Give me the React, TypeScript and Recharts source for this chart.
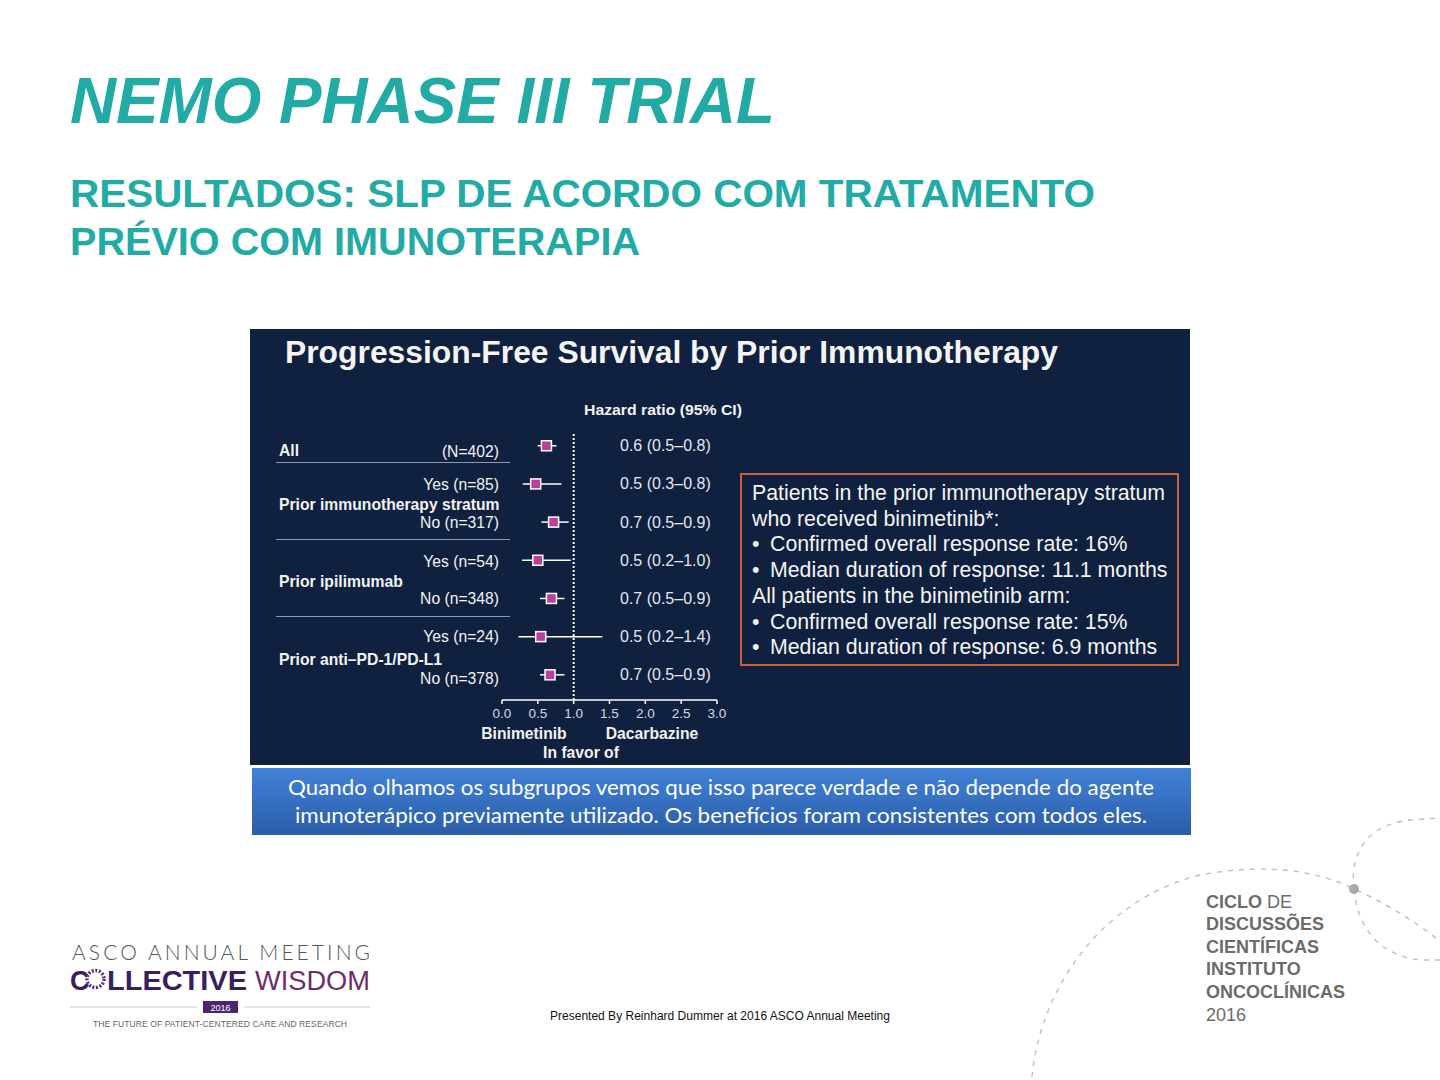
import React from 'react';
import { ScatterChart, Scatter, XAxis, YAxis, ReferenceLine, ErrorBar } from 'recharts';

const rowLabels = ['All', 'Yes (n=85)', 'No (n=317)', 'Yes (n=54)', 'No (n=348)', 'Yes (n=24)', 'No (n=378)'];
const hazardRatio = [0.62, 0.47, 0.72, 0.5, 0.69, 0.54, 0.67];
const ciLow = [0.5, 0.29, 0.55, 0.28, 0.53, 0.23, 0.53];
const ciHigh = [0.76, 0.83, 0.93, 0.96, 0.87, 1.4, 0.87];
const hrText = ['0.6 (0.5–0.8)', '0.5 (0.3–0.8)', '0.7 (0.5–0.9)', '0.5 (0.2–1.0)', '0.7 (0.5–0.9)', '0.5 (0.2–1.4)', '0.7 (0.5–0.9)'];
const xTicks = [0, 0.5, 1, 1.5, 2, 2.5, 3];

const boxLines = [
  { bullet: false, text: 'Patients in the prior immunotherapy stratum' },
  { bullet: false, text: 'who received binimetinib*:' },
  { bullet: true, text: 'Confirmed overall response rate: 16%' },
  { bullet: true, text: 'Median duration of response: 11.1 months' },
  { bullet: false, text: 'All patients in the binimetinib arm:' },
  { bullet: true, text: 'Confirmed overall response rate: 15%' },
  { bullet: true, text: 'Median duration of response: 6.9 months' },
];

const data = rowLabels.map((label, i) => ({
  label,
  row: i,
  hr: hazardRatio[i],
  err: [hazardRatio[i] - ciLow[i], ciHigh[i] - hazardRatio[i]],
  txt: hrText[i],
}));

const FONT = "'Liberation Sans', Arial, Helvetica, sans-serif";
const TEAL = '#22ABA5';
const NAVY = '#10203F';

const renderSquare = (p: any) => {
  if (p.cx == null || p.cy == null) return <g />;
  return (
    <g>
      <rect x={p.cx - 5} y={p.cy - 5} width={10} height={10} fill="#B8409C" stroke="#ffffff" strokeWidth={1.5} />
      <text x={370} y={p.cy + 5.5} fill="#e3e7ee" fontSize={16} fontFamily={FONT}>
        {p.payload?.txt}
      </text>
    </g>
  );
};

export default function App() {
  const leftLabel = (t: string, y: number, bold = false, end = false) => (
    <text
      x={end ? 499 : 279}
      y={y}
      textAnchor={end ? 'end' : 'start'}
      fill="#f2f2f2"
      fontSize={15.7}
      fontWeight={bold ? 700 : 400}
      fontFamily={FONT}
    >
      {t}
    </text>
  );

  return (
    <div style={{ position: 'absolute', left: 0, top: 0, width: 1440, height: 1080, background: '#ffffff', overflow: 'hidden' }}>
      <svg width={1440} height={1080} style={{ position: 'absolute', left: 0, top: 0 }}>
        {/* Titles */}
        <text x={70} y={123} fill={TEAL} fontSize={64} fontWeight={700} fontStyle="italic" fontFamily={FONT} textLength={705} lengthAdjust="spacingAndGlyphs">
          NEMO PHASE III TRIAL
        </text>
        <text x={70} y={207} fill={TEAL} fontSize={39} fontWeight={700} fontFamily={FONT} textLength={1025} lengthAdjust="spacingAndGlyphs">
          RESULTADOS: SLP DE ACORDO COM TRATAMENTO
        </text>
        <text x={70} y={255} fill={TEAL} fontSize={39} fontWeight={700} fontFamily={FONT} textLength={570} lengthAdjust="spacingAndGlyphs">
          PRÉVIO COM IMUNOTERAPIA
        </text>

        {/* Navy panel */}
        <rect x={250} y={329} width={940} height={436} fill={NAVY} />
        <text x={285} y={363} fill="#f4f4f4" fontSize={31} fontWeight={700} fontFamily={FONT} textLength={773} lengthAdjust="spacingAndGlyphs">
          Progression-Free Survival by Prior Immunotherapy
        </text>
        <text x={584} y={415} fill="#f2f2f2" fontSize={15.5} fontWeight={700} fontFamily={FONT} textLength={158} lengthAdjust="spacingAndGlyphs">
          Hazard ratio (95% CI)
        </text>

        {leftLabel('All', 455.5, true)}
        {leftLabel('(N=402)', 456.5, false, true)}
        <line x1={276} x2={510} y1={462.5} y2={462.5} stroke="#8c9bb5" strokeWidth={1} />
        {leftLabel('Yes (n=85)', 489.5, false, true)}
        {leftLabel('Prior immunotherapy stratum', 509.5, true)}
        {leftLabel('No (n=317)', 527.5, false, true)}
        <line x1={276} x2={510} y1={539.5} y2={539.5} stroke="#8c9bb5" strokeWidth={1} />
        {leftLabel('Yes (n=54)', 566.5, false, true)}
        {leftLabel('Prior ipilimumab', 586.5, true)}
        {leftLabel('No (n=348)', 603.5, false, true)}
        <line x1={276} x2={510} y1={616.5} y2={616.5} stroke="#8c9bb5" strokeWidth={1} />
        {leftLabel('Yes (n=24)', 641.5, false, true)}
        {leftLabel('Prior anti–PD-1/PD-L1', 664.5, true)}
        {leftLabel('No (n=378)', 683.5, false, true)}

        <text x={524} y={738.5} textAnchor="middle" fill="#f2f2f2" fontSize={15.7} fontWeight={700} fontFamily={FONT}>Binimetinib</text>
        <text x={652} y={738.5} textAnchor="middle" fill="#f2f2f2" fontSize={15.7} fontWeight={700} fontFamily={FONT}>Dacarbazine</text>
        <text x={581} y={758} textAnchor="middle" fill="#f2f2f2" fontSize={15.7} fontWeight={700} fontFamily={FONT}>In favor of</text>

        {/* Orange box */}
        <rect x={741} y={474} width={437} height={191} fill="none" stroke="#C9603C" strokeWidth={2} />
        {boxLines.map((l, i) => (
          <g key={i}>
            {l.bullet && (
              <text x={752} y={500 + i * 25.7} fill="#f4f4f4" fontSize={21.3} fontFamily={FONT}>•</text>
            )}
            <text x={l.bullet ? 770 : 752} y={500 + i * 25.7} fill="#f4f4f4" fontSize={21.3} fontFamily={FONT}>
              {l.text}
            </text>
          </g>
        ))}

        {/* Blue caption box */}
        <defs>
          <linearGradient id="blueg" x1="0" y1="0" x2="0" y2="1">
            <stop offset="0" stopColor="#4282D8" />
            <stop offset="1" stopColor="#2A5DA8" />
          </linearGradient>
        </defs>
        <rect x={252} y={768} width={939} height={67} fill="url(#blueg)" />
        <text x={721} y={795} textAnchor="middle" fill="#ffffff" fontSize={21} fontFamily="Lato, 'Open Sans', sans-serif" textLength={866} lengthAdjust="spacingAndGlyphs">
          Quando olhamos os subgrupos vemos que isso parece verdade e não depende do agente
        </text>
        <text x={721} y={823} textAnchor="middle" fill="#ffffff" fontSize={21} fontFamily="Lato, 'Open Sans', sans-serif" textLength={852} lengthAdjust="spacingAndGlyphs">
          imunoterápico previamente utilizado. Os benefícios foram consistentes com todos eles.
        </text>

        {/* Footer */}
        <text x={550} y={1020} fill="#111" fontSize={12} fontFamily={FONT} textLength={340} lengthAdjust="spacingAndGlyphs">
          Presented By Reinhard Dummer at 2016 ASCO Annual Meeting
        </text>

        {/* ASCO logo */}
        <text x={72} y={960} fill="#555" fontSize={21} fontWeight={300} fontFamily="Lato, sans-serif" textLength={298} lengthAdjust="spacing">
          ASCO ANNUAL MEETING
        </text>
        <text x={70} y={990} fill="#3A1F5E" fontSize={27} fontWeight={700} fontFamily={FONT}>C</text>
        <circle cx={95.5} cy={979} r={8.5} fill="none" stroke="#5B2E7E" strokeWidth={3.5} strokeDasharray="2 1.6" />
        <text x={107} y={990} fill="#3A1F5E" fontSize={27} fontWeight={700} fontFamily={FONT} textLength={140} lengthAdjust="spacingAndGlyphs">LLECTIVE</text>
        <text x={255} y={990} fill="#6E2C6E" fontSize={27} fontWeight={400} fontFamily={FONT} textLength={115} lengthAdjust="spacingAndGlyphs">WISDOM</text>
        <line x1={70} x2={197} y1={1007} y2={1007} stroke="#cccccc" strokeWidth={1} />
        <line x1={244} x2={370} y1={1007} y2={1007} stroke="#cccccc" strokeWidth={1} />
        <rect x={203} y={1001} width={35} height={12} fill="#4A2570" />
        <text x={220.5} y={1010.5} textAnchor="middle" fill="#ffffff" fontSize={9} fontFamily={FONT}>2016</text>
        <text x={93} y={1027} fill="#666" fontSize={8.5} fontFamily={FONT} textLength={254} lengthAdjust="spacing">
          THE FUTURE OF PATIENT-CENTERED CARE AND RESEARCH
        </text>

        {/* Right decorative curves */}
        <path d="M1032,1077 C1040,990 1100,900 1200,875 C1270,862 1320,872 1354,889 C1390,905 1420,925 1445,945" fill="none" stroke="#bbbbbb" strokeWidth={1.3} strokeDasharray="5 6" />
        <path d="M1354,889 C1350,855 1365,825 1410,820 C1425,819 1435,818 1445,818" fill="none" stroke="#bbbbbb" strokeWidth={1.3} strokeDasharray="5 6" />
        <path d="M1354,889 C1358,930 1380,955 1420,960 L1445,960" fill="none" stroke="#bbbbbb" strokeWidth={1.3} strokeDasharray="5 6" />
        <circle cx={1354} cy={889} r={5} fill="#aaaaaa" />

        {[
          ['CICLO', ' DE'],
          ['DISCUSSÕES', ''],
          ['CIENTÍFICAS', ''],
          ['INSTITUTO', ''],
          ['ONCOCLÍNICAS', ''],
          ['', '2016'],
        ].map((pair, i) => (
          <text key={i} x={1206} y={907.5 + i * 22.6} fill="#6b6b6b" fontSize={18} fontFamily={FONT}>
            <tspan fontWeight={700}>{pair[0]}</tspan>
            <tspan fontWeight={400}>{pair[1]}</tspan>
          </text>
        ))}
      </svg>

      <div style={{ position: 'absolute', left: 250, top: 329 }}>
        <ScatterChart width={940} height={436} margin={{ top: 103, right: 473, bottom: 45, left: 252 }}>
          <XAxis
            type="number"
            dataKey="hr"
            domain={[0, 3]}
            ticks={xTicks}
            interval={0}
            allowDataOverflow
            tickFormatter={(v: number) => v.toFixed(1)}
            height={20}
            tickSize={4}
            tickMargin={4}
            axisLine={{ stroke: '#ffffff', strokeWidth: 1.5 }}
            tickLine={{ stroke: '#ffffff', strokeWidth: 1.5 }}
            tick={{ fill: '#d5dae3', fontSize: 13.5, fontFamily: FONT }}
          />
          <YAxis type="number" dataKey="row" domain={[-0.36, 6.66]} reversed hide allowDataOverflow />
          <ReferenceLine x={1} stroke="#ffffff" strokeDasharray="2 2" strokeWidth={2} />
          <Scatter data={data} shape={renderSquare} isAnimationActive={false}>
            <ErrorBar dataKey="err" direction="x" width={0} stroke="#ffffff" strokeWidth={1.5} />
          </Scatter>
        </ScatterChart>
      </div>
    </div>
  );
}
